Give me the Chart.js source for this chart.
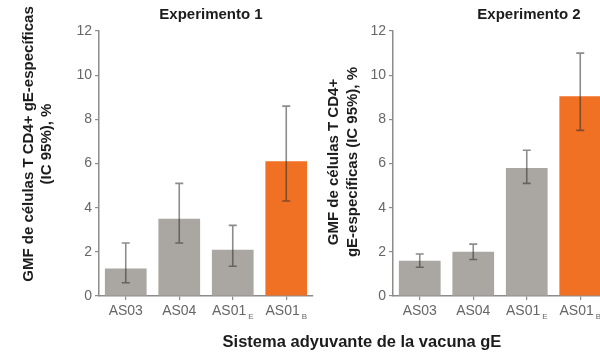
<!DOCTYPE html>
<html>
<head>
<meta charset="utf-8">
<script src="https://cdn.jsdelivr.net/npm/chart.js@4.4.0/dist/chart.umd.min.js"></script>
<style>
  html, body { margin: 0; padding: 0; background: #fff; }
  body { width: 600px; height: 354px; overflow: hidden; position: relative; font-family: "Liberation Sans", Arial, sans-serif; }
  canvas { position: absolute; top: 0; }
  .txt { position: absolute; color: #1c1c1c; font-weight: bold; white-space: nowrap; text-align: center; }
  .rot { transform: rotate(-90deg); transform-origin: 50% 50%; }
</style>
</head>
<body>
<canvas id="exp1" width="320" height="354" style="left:0"></canvas>
<canvas id="exp2" width="320" height="354" style="left:300px"></canvas>

<div class="txt" style="left:141px; top:5px; width:140px; font-size:15px; line-height:18px;">Experimento 1</div>
<div class="txt" style="left:459px; top:5px; width:140px; font-size:15px; line-height:18px;">Experimento 2</div>

<div class="txt rot" style="left:-113px; top:126px; width:300px; height:36px; font-size:15px; line-height:18px;">GMF de células T CD4+ gE-específicas<br>(IC 95%), %</div>
<div class="txt rot" style="left:231.5px; top:143px; width:220px; height:38px; font-size:15px; line-height:19px;">GMF de células T CD4+<br>gE-específicas (IC 95%), %</div>

<div class="txt" style="left:162px; top:331px; width:400px; font-size:16.5px; line-height:20px;">Sistema adyuvante de la vacuna gE</div>

<script>
// Adjuvant systems on the x axis ("_" marks a subscript)
const categories = ['AS03', 'AS04', 'AS01_E', 'AS01_B'];
const yTicks = [0, 2, 4, 6, 8, 10, 12];

// Experiment 1: GMF and 95% CI
const exp1Gmf = [1.25, 3.5, 2.1, 6.1];
const exp1Low = [0.6, 2.4, 1.35, 4.3];
const exp1High = [2.4, 5.1, 3.2, 8.6];

// Experiment 2: GMF and 95% CI
const exp2Gmf = [1.6, 2.0, 5.8, 9.05];
const exp2Low = [1.3, 1.65, 5.1, 7.5];
const exp2High = [1.9, 2.35, 6.6, 11.0];

const GREY = '#aaa7a3';
const ORANGE = '#f07024';
const AXIS = '#8c8c8c';
const barColors = [GREY, GREY, GREY, ORANGE];

// whiskers for the confidence intervals
const errorBars = {
  id: 'errorBars',
  afterDatasetsDraw(chart, args, opts) {
    const ctx = chart.ctx;
    const y = chart.scales.y;
    const meta = chart.getDatasetMeta(0);
    ctx.save();
    ctx.strokeStyle = 'rgba(45, 45, 45, 0.55)';
    ctx.lineWidth = 1.6;
    meta.data.forEach((bar, i) => {
      const top = y.getPixelForValue(opts.high[i]);
      const bottom = y.getPixelForValue(opts.low[i]);
      ctx.beginPath();
      ctx.moveTo(bar.x, top);
      ctx.lineTo(bar.x, bottom);
      ctx.moveTo(bar.x - 4, top);
      ctx.lineTo(bar.x + 4, top);
      ctx.moveTo(bar.x - 4, bottom);
      ctx.lineTo(bar.x + 4, bottom);
      ctx.stroke();
    });
    ctx.restore();
  }
};

// category labels with subscripts
const subLabels = {
  id: 'subLabels',
  afterDraw(chart) {
    const ctx = chart.ctx;
    const x = chart.scales.x;
    const base = x.top + 19;
    ctx.save();
    ctx.fillStyle = '#666';
    ctx.textBaseline = 'alphabetic';
    ctx.textAlign = 'left';
    chart.data.labels.forEach((label, i) => {
      const [main, sub] = label.split('_');
      ctx.font = '14px "Liberation Sans", Arial, sans-serif';
      const mw = ctx.measureText(main).width;
      let sw = 0;
      if (sub) {
        ctx.font = '8px "Liberation Sans", Arial, sans-serif';
        sw = ctx.measureText(sub).width + 2;
      }
      const cx = x.getPixelForTick(i);
      const start = cx - (mw + sw) / 2;
      ctx.font = '14px "Liberation Sans", Arial, sans-serif';
      ctx.fillText(main, start, base);
      if (sub) {
        ctx.font = '8px "Liberation Sans", Arial, sans-serif';
        ctx.fillText(sub, start + mw + 2, base + 4);
      }
    });
    ctx.restore();
  }
};

function makeChart(id, values, low, high, yWidth, padRight) {
  return new Chart(document.getElementById(id), {
    type: 'bar',
    data: {
      labels: categories,
      datasets: [{
        data: values,
        backgroundColor: barColors,
        borderWidth: 0,
        barPercentage: 0.78,
        categoryPercentage: 1
      }]
    },
    options: {
      responsive: false,
      animation: false,
      layout: { padding: { top: 31, right: padRight, bottom: 28, left: 0 } },
      plugins: {
        legend: { display: false },
        tooltip: { enabled: false },
        errorBars: { low: low, high: high }
      },
      scales: {
        x: {
          afterFit: (s) => { s.height = 30; },
          grid: { drawOnChartArea: false, offset: false, color: AXIS, tickLength: 4, lineWidth: 1.2 },
          border: { color: AXIS, width: 1.5 },
          ticks: { display: false }
        },
        y: {
          min: 0,
          max: 12,
          afterFit: (s) => { s.width = yWidth; },
          afterBuildTicks: (s) => { s.ticks = yTicks.map(v => ({ value: v })); },
          grid: { drawOnChartArea: false, color: AXIS, tickLength: 4, lineWidth: 1.2 },
          border: { color: AXIS, width: 1.5 },
          ticks: {
            padding: 3,
            color: '#666',
            font: { family: '"Liberation Sans", Arial, sans-serif', size: 14 }
          }
        }
      }
    },
    plugins: [errorBars, subLabels]
  });
}

makeChart('exp1', exp1Gmf, exp1Low, exp1High, 99, 7);
makeChart('exp2', exp2Gmf, exp2Low, exp2High, 93, 13);
</script>
</body>
</html>
